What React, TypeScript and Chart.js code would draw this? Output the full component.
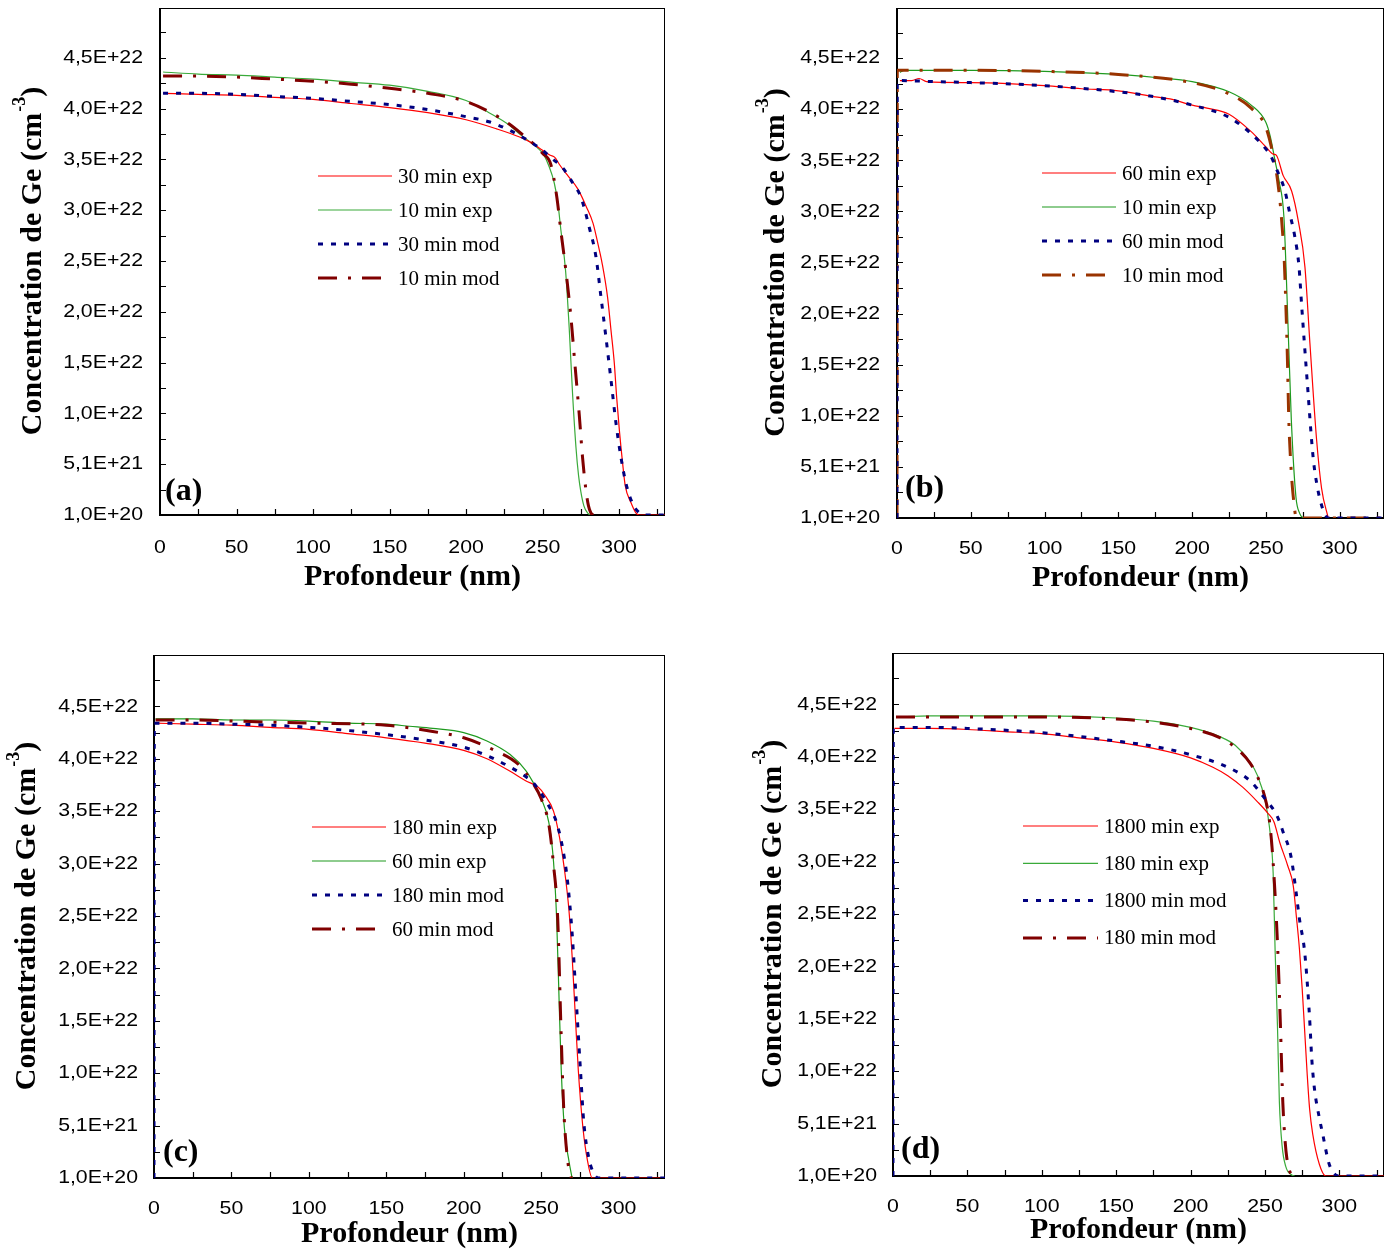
import React, { useEffect, useRef } from "react";
import { Chart, registerables } from "chart.js";

Chart.register(...registerables);

type Pt = [number, number];

// ---------- axes (concentration in units of 1e22 cm^-3, depth in nm) ----------
const X_MIN = 0;
const X_MAX = 330;
const X_TICKS = [0, 50, 100, 150, 200, 250, 300];
const X_TICK_LABELS = ["0", "50", "100", "150", "200", "250", "300"];
const X_MINOR_TICKS = [25, 75, 125, 175, 225, 275, 325];
const Y_MIN = 0.01;
const Y_MAX = 5.0;
const Y_TICKS = [0.01, 0.51, 1.01, 1.51, 2.01, 2.51, 3.01, 3.51, 4.01, 4.51];
const Y_TICK_LABELS = ["1,0E+20", "5,1E+21", "1,0E+22", "1,5E+22", "2,0E+22", "2,5E+22", "3,0E+22", "3,5E+22", "4,0E+22", "4,5E+22"];
const Y_MINOR_TICKS = [0.26, 0.76, 1.26, 1.76, 2.26, 2.76, 3.26, 3.76, 4.26, 4.76];

// ---------- panel (a) ----------
const A_EXP30: Pt[] = [[2,4.16],[25,4.15],[50,4.14],[75,4.12],[100,4.10],[125,4.06],[150,4.02],[175,3.97],[200,3.90],[220,3.81],[235,3.73],[242,3.68],[250,3.60],[255,3.55],[258,3.53],[261,3.46],[266,3.36],[273,3.22],[279,3.03],[283,2.88],[286,2.69],[289,2.48],[292.5,2.15],[294.7,1.83],[296.9,1.50],[298.4,1.17],[300.2,0.84],[302.3,0.52],[304,0.30],[307.8,0.13],[311,0.03],[313,0.01],[330,0.01]];
const A_EXP10: Pt[] = [[2,4.37],[25,4.35],[50,4.34],[75,4.32],[100,4.30],[125,4.27],[150,4.24],[175,4.18],[200,4.09],[215,3.97],[228,3.85],[235,3.76],[242,3.68],[247,3.62],[251,3.55],[254,3.45],[257.6,3.28],[260,3.08],[262,2.81],[265,2.42],[267.4,1.85],[269.6,1.20],[271.8,0.68],[273.5,0.40],[275,0.24],[277,0.10],[279.4,0.03],[281,0.01]];
const A_MOD30: Pt[] = [[2,4.16],[25,4.16],[50,4.15],[75,4.13],[100,4.11],[125,4.08],[150,4.05],[175,4.00],[200,3.93],[215,3.88],[228,3.80],[240,3.70],[250,3.60],[256,3.52],[263,3.43],[269.6,3.28],[275,3.14],[280.5,2.84],[284.9,2.55],[288.2,2.15],[291.4,1.76],[294.7,1.34],[298,0.91],[301.2,0.58],[304.5,0.32],[308.9,0.12],[313.3,0.03],[316,0.01],[330,0.01]];
const A_MOD10: Pt[] = [[2,4.33],[25,4.33],[50,4.32],[75,4.30],[100,4.28],[125,4.25],[150,4.21],[175,4.16],[200,4.08],[215,3.98],[228,3.86],[238,3.74],[245,3.65],[250,3.57],[255.4,3.46],[259.3,3.14],[262,2.80],[265.2,2.42],[268.5,1.96],[271.1,1.50],[273.9,1.01],[276.1,0.58],[278.3,0.26],[280,0.10],[281.6,0.03],[283,0.01]];
const A_LEGEND = ["30 min exp", "10 min exp", "30 min mod", "10 min mod"];

// ---------- panel (b) ----------
const B_EXP60: Pt[] = [[2,4.29],[10,4.29],[15,4.31],[20,4.28],[50,4.27],[75,4.26],[100,4.24],[125,4.21],[150,4.19],[175,4.13],[185,4.11],[200,4.05],[210,4.02],[225,3.96],[240,3.79],[250,3.64],[255,3.57],[257,3.56],[261.7,3.36],[267.4,3.21],[272,2.91],[276.4,2.47],[279.8,1.72],[284.3,0.78],[287.7,0.30],[292.2,0.01]];
const B_EXP10: Pt[] = [[2,4.37],[5,4.39],[50,4.39],[100,4.38],[150,4.35],[175,4.32],[200,4.28],[225,4.18],[240,4.05],[250,3.88],[253,3.74],[256.1,3.51],[259,3.30],[262.2,2.95],[264.5,2.09],[267.2,0.97],[270.3,0.22],[273,0.05],[275.3,0.01]];
const B_MOD60: Pt[] = [[0,0.01],[0.2,4.29],[25,4.28],[50,4.27],[100,4.24],[150,4.18],[175,4.13],[200,4.05],[225,3.93],[240,3.77],[250,3.62],[253,3.56],[257,3.43],[262.9,3.21],[266,3.00],[269.6,2.76],[272.4,2.47],[274.2,2.09],[278,1.34],[282,0.60],[285,0.30],[288,0.12],[290,0.05],[292,0.01],[330,0.01]];
const B_MOD10: Pt[] = [[0,0.01],[0.2,4.39],[50,4.39],[100,4.38],[150,4.35],[200,4.27],[225,4.16],[240,4.02],[250,3.83],[255,3.55],[258,3.30],[260.5,2.95],[262.5,2.50],[263.5,2.09],[264.5,1.60],[265.5,0.97],[267,0.50],[268.5,0.22],[270.7,0.01],[330,0.01]];
const B_LEGEND = ["60 min exp", "10 min exp", "60 min mod", "10 min mod"];

// ---------- panel (c) ----------
const C_EXP180: Pt[] = [[1,4.35],[25,4.34],[50,4.33],[75,4.31],[100,4.29],[125,4.25],[150,4.21],[175,4.16],[200,4.09],[215,4.01],[230,3.89],[240,3.80],[248,3.74],[252,3.67],[258,3.51],[262,3.25],[265,2.96],[268,2.56],[270,2.13],[272,1.58],[274,1.04],[277,0.49],[280,0.17],[283,0.01],[330,0.01]];
const C_EXP60: Pt[] = [[1,4.39],[25,4.39],[50,4.38],[75,4.38],[100,4.37],[125,4.35],[150,4.34],[165,4.32],[180,4.30],[200,4.26],[215,4.18],[230,4.05],[240,3.90],[245,3.78],[250,3.63],[255,3.40],[258,3.03],[260,2.49],[261.5,1.76],[263,1.04],[265,0.49],[268,0.17],[270,0.01]];
const C_MOD180: Pt[] = [[0,0.01],[0.2,4.35],[25,4.35],[50,4.34],[75,4.33],[100,4.31],[125,4.28],[150,4.24],[175,4.19],[200,4.12],[215,4.04],[230,3.93],[240,3.84],[245,3.78],[250,3.68],[255,3.56],[260,3.40],[264,3.15],[267,2.85],[270,2.35],[272.5,1.75],[275.4,1.04],[277.5,0.55],[280.8,0.20],[283.5,0.07],[287,0.01],[330,0.01]];
const C_MOD60: Pt[] = [[1,4.38],[25,4.38],[50,4.37],[100,4.35],[150,4.33],[180,4.27],[200,4.21],[220,4.09],[235,3.96],[245,3.77],[250,3.63],[255,3.38],[258,3.00],[260.7,2.49],[262.9,1.40],[264.6,0.67],[267.2,0.17],[269.5,0.01]];
const C_LEGEND = ["180 min exp", "60 min exp", "180 min mod", "60 min mod"];

// ---------- panel (d) ----------
const D_EXP1800: Pt[] = [[1,4.28],[25,4.28],[50,4.27],[75,4.25],[100,4.23],[125,4.19],[150,4.15],[175,4.09],[200,4.00],[215,3.91],[225,3.83],[235,3.72],[245,3.58],[252,3.47],[256,3.39],[260,3.19],[265.3,2.97],[269,2.78],[271,2.50],[273.2,2.17],[275,1.80],[276.5,1.44],[278.3,1.00],[280,0.65],[282.1,0.41],[286.6,0.12],[291,0.01],[330,0.01]];
const D_EXP180: Pt[] = [[2,4.39],[25,4.40],[50,4.40],[100,4.40],[150,4.38],[175,4.35],[200,4.29],[220,4.20],[230,4.12],[240,3.96],[245,3.83],[250,3.60],[253,3.34],[255.5,2.90],[256.8,2.17],[258.4,1.44],[259.7,0.71],[261.5,0.30],[264,0.10],[268,0.02],[270,0.01]];
const D_MOD1800: Pt[] = [[0,0.01],[0.2,4.29],[25,4.29],[50,4.28],[100,4.24],[150,4.16],[175,4.11],[200,4.03],[225,3.91],[240,3.78],[250,3.61],[258,3.45],[262,3.30],[267.6,3.05],[270.9,2.72],[273.2,2.46],[276.5,2.17],[278.7,1.80],[280.3,1.44],[281.4,1.14],[283.2,0.85],[286.6,0.56],[288.8,0.41],[292.8,0.14],[296,0.04],[300,0.01],[330,0.01]];
const D_MOD180: Pt[] = [[2,4.39],[50,4.39],[100,4.39],[150,4.37],[175,4.34],[200,4.28],[220,4.19],[230,4.10],[240,3.95],[245,3.82],[250,3.62],[253,3.40],[255.5,3.00],[258.6,2.17],[260.4,1.44],[262,0.71],[263.5,0.35],[264.7,0.18],[266.5,0.06],[268.7,0.01]];
const D_LEGEND = ["1800 min exp", "180 min exp", "1800 min mod", "180 min mod"];

// ---------- styles ----------
const RED = "#ff0000";
const GREEN = "#1f9a1f";
const GREEN_LIGHT = "#3aaa3a";
const NAVY = "#000080";
const MAROON = "#800000";
const RUST = "#993300";
const DOT_DASH = [5, 8];
const DASH_DOT = [19, 11, 3, 11];

const SERIF = '"Liberation Serif", "Times New Roman", serif';
const SANS = '"Liberation Sans", Arial, sans-serif';
const TICK_FONT_SIZE = 19;
const TICK_STRETCH = 1.12;

interface Style { color: string; width: number; dash: number[] }
interface PanelCfg {
  left: number; top: number; w: number; h: number;
  area: { l: number; t: number; r: number; b: number };
  label: string; labelDx: number; labelDy: number;
  legendText: string[];
  series: Pt[][];
  styles: Style[];
  legend: { x1: number; x2: number; y0: number; dy: number };
  yTitleX: number; xTitleDy: number; xLabelDy: number; yLabelGap: number;
}

const expRed: Style = { color: RED, width: 1.2, dash: [] };
const expGreen: Style = { color: GREEN, width: 1.2, dash: [] };
const expGreenLight: Style = { color: GREEN_LIGHT, width: 1.2, dash: [] };
const modBlue: Style = { color: NAVY, width: 3, dash: DOT_DASH };
const modMaroon: Style = { color: MAROON, width: 3, dash: DASH_DOT };
const modRust: Style = { color: RUST, width: 3, dash: DASH_DOT };

const PANELS: PanelCfg[] = [
  {
    left: 0, top: 0, w: 695, h: 625,
    area: { l: 160, t: 8, r: 665, b: 515 },
    label: "(a)", labelDx: 5, labelDy: 23,
    legendText: A_LEGEND, series: [A_EXP30, A_EXP10, A_MOD30, A_MOD10],
    styles: [expRed, expGreenLight, modBlue, modMaroon],
    legend: { x1: 318, x2: 392, y0: 176, dy: 34 },
    yTitleX: 33, xTitleDy: 62, xLabelDy: 33, yLabelGap: 17,
  },
  {
    left: 695, top: 0, w: 695, h: 625,
    area: { l: 202, t: 8, r: 689, b: 518 },
    label: "(b)", labelDx: 8, labelDy: 29,
    legendText: B_LEGEND, series: [B_EXP60, B_EXP10, B_MOD60, B_MOD10],
    styles: [expRed, expGreen, modBlue, modRust],
    legend: { x1: 347, x2: 421, y0: 173, dy: 34 },
    yTitleX: 81, xTitleDy: 60, xLabelDy: 31, yLabelGap: 17,
  },
  {
    left: 0, top: 625, w: 695, h: 625,
    area: { l: 154, t: 30, r: 665, b: 553 },
    label: "(c)", labelDx: 9, labelDy: 25,
    legendText: C_LEGEND, series: [C_EXP180, C_EXP60, C_MOD180, C_MOD60],
    styles: [expRed, expGreen, modBlue, modMaroon],
    legend: { x1: 312, x2: 386, y0: 202, dy: 34 },
    yTitleX: 27, xTitleDy: 56, xLabelDy: 31, yLabelGap: 16,
  },
  {
    left: 695, top: 625, w: 695, h: 625,
    area: { l: 198, t: 28, r: 689, b: 551 },
    label: "(d)", labelDx: 8, labelDy: 26,
    legendText: D_LEGEND, series: [D_EXP1800, D_EXP180, D_MOD1800, D_MOD180],
    styles: [expRed, expGreenLight, modBlue, modMaroon],
    legend: { x1: 328, x2: 403, y0: 201, dy: 37.3 },
    yTitleX: 78, xTitleDy: 54, xLabelDy: 31, yLabelGap: 16,
  },
];

function drawStretched(ctx: CanvasRenderingContext2D, text: string, x: number, y: number, align: CanvasTextAlign) {
  ctx.save();
  ctx.translate(x, y);
  ctx.scale(TICK_STRETCH, 1);
  ctx.textAlign = align;
  ctx.textBaseline = "middle";
  ctx.fillText(text, 0, 0);
  ctx.restore();
}

function makeDecor(p: PanelCfg) {
  return {
    id: "decor",
    beforeDatasetsDraw(chart: any) {
      const ctx: CanvasRenderingContext2D = chart.ctx;
      const a = chart.chartArea;
      const xs = chart.scales.x;
      const ys = chart.scales.y;
      ctx.save();
      ctx.strokeStyle = "#000";
      // frame
      ctx.lineWidth = 1;
      ctx.strokeRect(a.left + 0.5, a.top + 0.5, a.right - a.left - 1, a.bottom - a.top - 1);
      ctx.lineWidth = 2;
      ctx.beginPath();
      ctx.moveTo(a.left, a.top);
      ctx.lineTo(a.left, a.bottom);
      ctx.lineTo(a.right, a.bottom);
      ctx.stroke();
      // inward tick marks
      ctx.lineWidth = 1.2;
      ctx.beginPath();
      [...Y_TICKS, ...Y_MINOR_TICKS].forEach((v) => {
        const y = Math.round(ys.getPixelForValue(v)) + 0.5;
        if (y > a.bottom - 1 || y < a.top) return;
        ctx.moveTo(a.left, y);
        ctx.lineTo(a.left + 6, y);
      });
      [...X_TICKS, ...X_MINOR_TICKS].forEach((v) => {
        const x = Math.round(xs.getPixelForValue(v)) + 0.5;
        if (x < a.left + 1 || x > a.right) return;
        ctx.moveTo(x, a.bottom);
        ctx.lineTo(x, a.bottom - 6);
      });
      ctx.stroke();
      // tick labels (positioned by the chart's scales)
      ctx.fillStyle = "#000";
      ctx.font = `${TICK_FONT_SIZE}px ${SANS}`;
      Y_TICKS.forEach((v, i) => {
        drawStretched(ctx, Y_TICK_LABELS[i], a.left - p.yLabelGap, ys.getPixelForValue(v), "right");
      });
      X_TICKS.forEach((v, i) => {
        drawStretched(ctx, X_TICK_LABELS[i], xs.getPixelForValue(v), a.bottom + p.xLabelDy, "center");
      });
      ctx.restore();
    },
    afterDraw(chart: any) {
      const ctx: CanvasRenderingContext2D = chart.ctx;
      const a = chart.chartArea;
      ctx.save();
      // legend
      p.legendText.forEach((t, i) => {
        const st = p.styles[i];
        const y = p.legend.y0 + i * p.legend.dy;
        ctx.strokeStyle = st.color;
        ctx.lineWidth = st.width;
        ctx.setLineDash(st.dash);
        ctx.lineCap = "butt";
        ctx.beginPath();
        ctx.moveTo(p.legend.x1, y);
        ctx.lineTo(p.legend.x2, y);
        ctx.stroke();
        ctx.setLineDash([]);
        ctx.fillStyle = "#000";
        ctx.font = `21px ${SERIF}`;
        ctx.textAlign = "left";
        ctx.textBaseline = "middle";
        ctx.fillText(t, p.legend.x2 + 6, y + 1);
      });
      // panel label
      ctx.fillStyle = "#000";
      ctx.font = `bold 32px ${SERIF}`;
      ctx.textAlign = "left";
      ctx.textBaseline = "middle";
      ctx.fillText(p.label, a.left + p.labelDx, a.bottom - p.labelDy);
      // x title
      ctx.font = `bold 30px ${SERIF}`;
      ctx.textAlign = "center";
      ctx.fillText("Profondeur (nm)", (a.left + a.right) / 2, a.bottom + p.xTitleDy);
      // y title with superscript
      const main = "Concentration de Ge (cm";
      const sup = "-3";
      const end = ")";
      const mainFont = `bold 30px ${SERIF}`;
      const supFont = `bold 18px ${SERIF}`;
      ctx.font = mainFont;
      const w1 = ctx.measureText(main).width;
      const w3 = ctx.measureText(end).width;
      ctx.font = supFont;
      const w2 = ctx.measureText(sup).width;
      const total = w1 + w2 + w3;
      ctx.translate(p.yTitleX, (a.top + a.bottom) / 2);
      ctx.rotate(-Math.PI / 2);
      ctx.textAlign = "left";
      ctx.textBaseline = "middle";
      const s = -total / 2;
      ctx.font = mainFont;
      ctx.fillText(main, s, 0);
      ctx.font = supFont;
      ctx.fillText(sup, s + w1 + 1, -13);
      ctx.font = mainFont;
      ctx.fillText(end, s + w1 + w2 + 1, 0);
      ctx.restore();
    },
  };
}

function Panel({ p }: { p: PanelCfg }) {
  const ref = useRef<HTMLCanvasElement | null>(null);
  useEffect(() => {
    if (!ref.current) return;
    const datasets = p.series.map((pts, i) => {
      const st = p.styles[i];
      return {
        label: p.legendText[i],
        data: pts.map(([x, y]) => ({ x, y })),
        borderColor: st.color,
        backgroundColor: st.color,
        borderWidth: st.width,
        borderDash: st.dash,
        borderCapStyle: "butt" as const,
        pointRadius: 0,
        fill: false,
        cubicInterpolationMode: "monotone" as const,
        order: i < 2 ? 2 : 1,
      };
    });
    const chart = new Chart(ref.current, {
      type: "line",
      data: { datasets },
      plugins: [makeDecor(p)],
      options: {
        animation: false,
        responsive: false,
        maintainAspectRatio: false,
        layout: { padding: { top: p.area.t, right: p.w - p.area.r, left: 0, bottom: 0 } },
        plugins: { legend: { display: false }, tooltip: { enabled: false } },
        scales: {
          x: {
            type: "linear",
            min: X_MIN,
            max: X_MAX,
            grid: { display: false, drawTicks: false },
            border: { display: false },
            ticks: { display: false },
            afterBuildTicks: (s: any) => { s.ticks = X_TICKS.map((v) => ({ value: v })); },
            afterFit: (s: any) => {
              s.height = p.h - p.area.b;
              s.paddingLeft = 0; s.paddingRight = 0; s.paddingTop = 0; s.paddingBottom = 0;
            },
          },
          y: {
            type: "linear",
            min: Y_MIN,
            max: Y_MAX,
            grid: { display: false, drawTicks: false },
            border: { display: false },
            ticks: { display: false },
            afterBuildTicks: (s: any) => { s.ticks = Y_TICKS.map((v) => ({ value: v })); },
            afterFit: (s: any) => {
              s.width = p.area.l;
              s.paddingLeft = 0; s.paddingRight = 0; s.paddingTop = 0; s.paddingBottom = 0;
            },
          },
        },
      } as any,
    });
    return () => chart.destroy();
  }, [p]);
  return (
    <canvas
      ref={ref}
      width={p.w}
      height={p.h}
      style={{ position: "absolute", left: p.left, top: p.top, width: p.w, height: p.h }}
    />
  );
}

export default function App() {
  return (
    <div style={{ position: "absolute", left: 0, top: 0, width: 1390, height: 1250, background: "#fff" }}>
      {PANELS.map((p, i) => (
        <Panel key={i} p={p} />
      ))}
    </div>
  );
}
